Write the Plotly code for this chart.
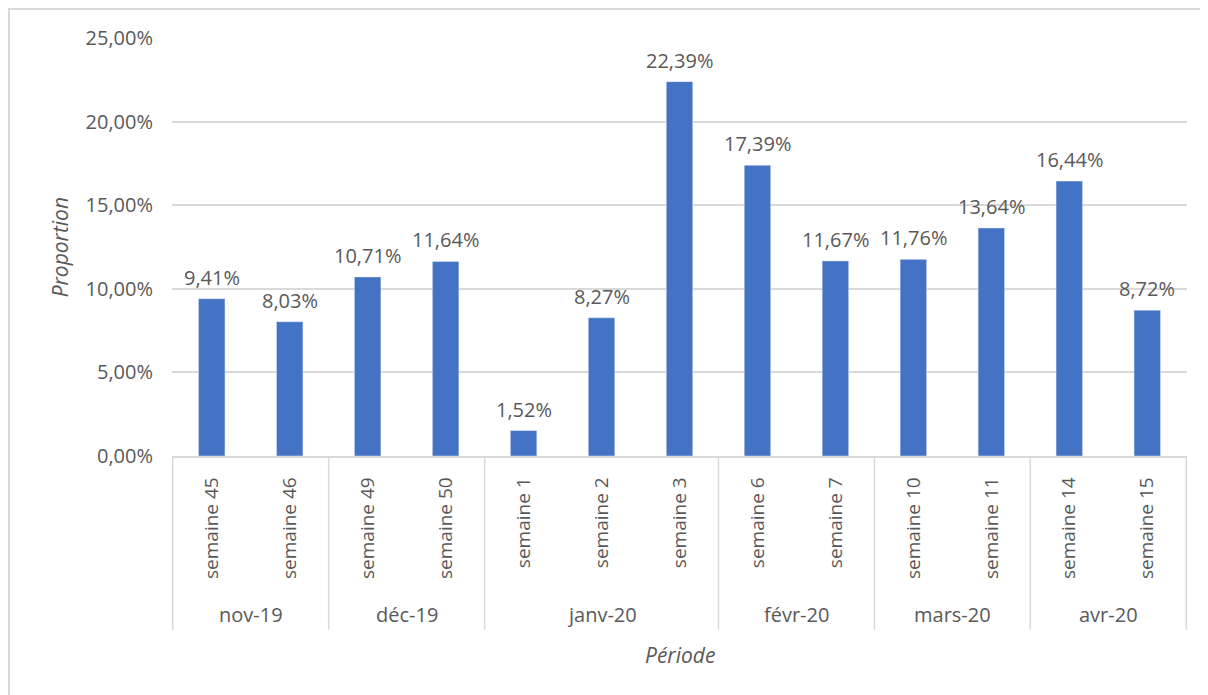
import plotly.graph_objects as go

months = ["nov-19", "déc-19", "janv-20", "févr-20", "mars-20", "avr-20"]
weeks_per_month = [2, 2, 3, 2, 2, 2]
weeks = ["semaine 45", "semaine 46", "semaine 49", "semaine 50",
         "semaine 1", "semaine 2", "semaine 3", "semaine 6", "semaine 7",
         "semaine 10", "semaine 11", "semaine 14", "semaine 15"]
proportion = [0.0941, 0.0803, 0.1071, 0.1164, 0.0152, 0.0827, 0.2239,
              0.1739, 0.1167, 0.1176, 0.1364, 0.1644, 0.0872]

grey_txt = "#595959"
grid = "#d9d9d9"
font = "Open Sans"

fig = go.Figure()
fig.add_trace(go.Bar(
    x=weeks, y=proportion,
    marker_color="#4472C4",
    width=0.34,
))

shapes = []
annotations = []

# value labels above the bars
for w, v in zip(weeks, proportion):
    annotations.append(dict(text=f"{v * 100:.2f}%".replace(".", ","),
                            x=w, y=v, xref="x", yref="y",
                            xanchor="center", yanchor="bottom", yshift=6,
                            showarrow=False,
                            font=dict(color=grey_txt, size=20, family=font)))

# group dividers and month labels under the week labels
start = 0
for m, n in zip(months, weeks_per_month):
    shapes.append(dict(type="line", xref="x", yref="paper",
                       x0=start - 0.5, x1=start - 0.5, y0=0, y1=-0.416,
                       line=dict(color=grid, width=1.5)))
    annotations.append(dict(text=m, xref="x", yref="paper",
                            x=start + (n - 1) / 2, y=-0.38,
                            xanchor="center", yanchor="middle",
                            showarrow=False,
                            font=dict(color=grey_txt, size=20, family=font)))
    start += n
shapes.append(dict(type="line", xref="x", yref="paper",
                   x0=start - 0.5, x1=start - 0.5, y0=0, y1=-0.416,
                   line=dict(color=grid, width=1.5)))

# chart border
shapes.append(dict(type="rect", xref="paper", yref="paper",
                   x0=-0.1606, x1=1.2, y0=-1, y1=1.0695,
                   line=dict(color=grid, width=2), layer="below"))

annotations.append(dict(text="<i>Période</i>", xref="paper", yref="paper",
                        x=0.5, y=-0.477, xanchor="center", yanchor="middle",
                        showarrow=False,
                        font=dict(color=grey_txt, size=21, family=font)))
annotations.append(dict(text="<i>Proportion</i>", xref="paper", yref="paper",
                        x=-0.110, y=0.5, xanchor="center", yanchor="middle",
                        showarrow=False, textangle=-90,
                        font=dict(color=grey_txt, size=21, family=font)))

fig.update_layout(
    width=1200, height=687,
    margin=dict(l=164, r=21, t=30, b=239),
    paper_bgcolor="white", plot_bgcolor="white",
    showlegend=False,
    shapes=shapes,
    annotations=annotations,
    separators=", ",
    xaxis=dict(type="category", tickangle=-90, showgrid=False,
               showline=True, linecolor=grid, linewidth=1.5,
               ticks="", ticklabelstandoff=12,
               tickfont=dict(color=grey_txt, size=19, family=font)),
    yaxis=dict(range=[0, 0.25], dtick=0.05, tickformat=".2%",
               showgrid=True, gridcolor=grid, gridwidth=1.5,
               zeroline=False, showline=False, ticks="",
               ticklabelstandoff=18,
               tickfont=dict(color=grey_txt, size=20, family=font)),
)

fig.write_html("out.html")
